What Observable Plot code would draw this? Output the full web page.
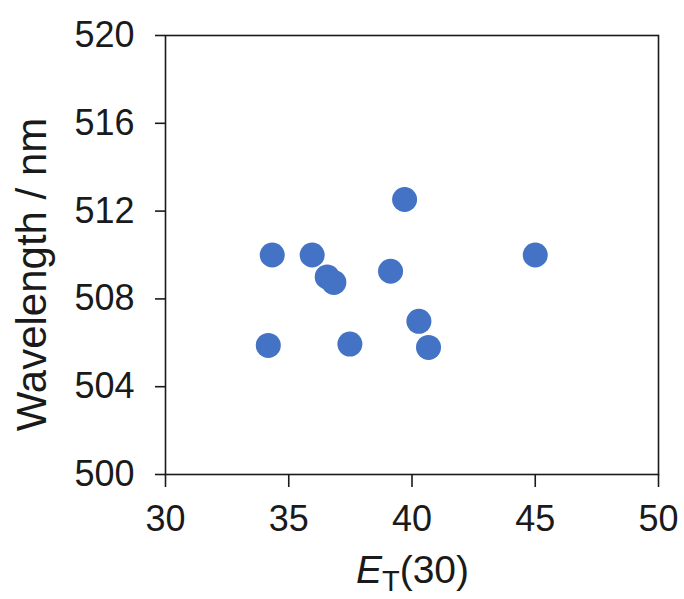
<!DOCTYPE html>
<html><head><meta charset="utf-8">
<script src="https://cdn.jsdelivr.net/npm/d3@7"></script>
<script src="https://cdn.jsdelivr.net/npm/@observablehq/plot@0.6"></script>
<style>body{margin:0;background:#fff}</style>
</head><body><div id="chart"></div>
<script>
const et30 = [34.17, 34.33, 35.95, 36.56, 36.83, 37.48, 39.13, 39.70, 40.28, 40.67, 45.0];
const wavelength = [505.88, 510.0, 510.0, 509.0, 508.75, 505.94, 509.26, 512.53, 506.98, 505.79, 510.0];
const xTicks = [30, 35, 40, 45, 50];
const yTicks = [500, 504, 508, 512, 516, 520];
const xTitleMain = "E", xTitleSub = "T", xTitleRest = "(30)";
const yTitle = "Wavelength / nm";

const data = et30.map((x, i) => ({x, y: wavelength[i]}));

const plot = Plot.plot({
  width: 684,
  height: 599,
  marginLeft: 165,
  marginRight: 26,
  marginTop: 35,
  marginBottom: 125,
  style: {fontFamily: "'Liberation Sans', Arial, sans-serif", color: "#1a1a1a", background: "#fff"},
  x: {domain: [30, 50]},
  y: {domain: [500, 520]},
  marks: [
    Plot.frame({stroke: "#1a1a1a", strokeWidth: 1.6}),
    Plot.axisX({ticks: xTicks, tickSize: 13, tickPadding: 18, fontSize: 36, label: null, strokeWidth: 1.6}),
    Plot.axisY({ticks: yTicks, tickSize: 10, tickPadding: 21, fontSize: 36, label: null, strokeWidth: 1.6}),
    Plot.dot(data, {x: "x", y: "y", r: 12.5, fill: "#4472C4", stroke: "none"})
  ]
});

const svg = d3.select(plot);
const xs = plot.scale("x").range, ys = plot.scale("y").range;
const xt = svg.append("text")
  .attr("x", (xs[0] + xs[1]) / 2 + 1)
  .attr("y", 583)
  .attr("text-anchor", "middle")
  .attr("font-size", 39)
  .attr("fill", "#1a1a1a");
xt.append("tspan").attr("font-style", "italic").text(xTitleMain);
xt.append("tspan").attr("font-size", 29).attr("dy", 8).text(xTitleSub);
xt.append("tspan").attr("dy", -8).text(xTitleRest);

svg.append("text")
  .attr("transform", `translate(31,${(ys[0] + ys[1]) / 2 + 20}) rotate(-90)`)
  .attr("text-anchor", "middle")
  .attr("dy", "0.35em")
  .attr("font-size", 42)
  .attr("fill", "#1a1a1a")
  .text(yTitle);

document.getElementById("chart").append(plot);
</script>
</body></html>
